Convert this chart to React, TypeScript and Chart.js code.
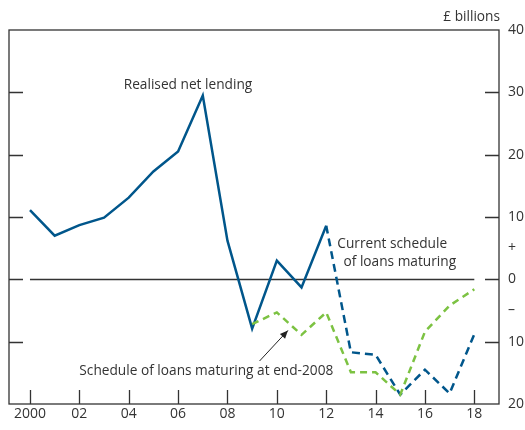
import React, { useEffect, useRef } from "react";
import { Chart, registerables } from "chart.js";

Chart.register(...registerables);

const years = [2000, 2001, 2002, 2003, 2004, 2005, 2006, 2007, 2008, 2009, 2010, 2011, 2012, 2013, 2014, 2015, 2016, 2017, 2018];
const realised = [11.1, 7.0, 8.7, 9.9, 13.1, 17.3, 20.5, 29.5, 6.2, -7.9, 3.0, -1.3, 8.6, null, null, null, null, null, null];
const currentSchedule = [null, null, null, null, null, null, null, null, null, null, null, null, 8.6, -11.7, -12.1, -18.5, -14.5, -18.3, -8.8];
const schedule2008 = [null, null, null, null, null, null, null, null, null, -7.2, -5.3, -8.9, -5.3, -14.9, -14.9, -18.5, -8.4, -4.2, -1.6];
const xTickYears = [2000, 2002, 2004, 2006, 2008, 2010, 2012, 2014, 2016, 2018];
const xTickLabels = ["2000", "02", "04", "06", "08", "10", "12", "14", "16", "18"];
const yTickValues = [40, 35, 30, 25, 20, 15, 10, 5, 0, -5, -10, -15, -20];
const yTickLabels = ["40", "", "30", "", "20", "", "10", "+", "0", "\u2013", "10", "", "20"];
const boxTickValues = [30, 20, 10, 0, -10];

const BLUE = "#00568b";
const GREEN = "#7cc242";
const INK = "#333333";
const FONT = "'Open Sans', 'Noto Sans', sans-serif";

const toPoints = (vals: (number | null)[]) =>
  years.map((y, i) => ({ x: y, y: vals[i] })).filter((p) => p.y !== null);

const framePlugin = {
  id: "frame",
  beforeDatasetsDraw(chart: any) {
    const { ctx, chartArea, scales } = chart;
    const { left, right, top, bottom } = chartArea;
    const xs = scales.x;
    const ys = scales.y;
    ctx.save();
    ctx.strokeStyle = INK;
    ctx.lineWidth = 1.3;
    ctx.strokeRect(left, top, right - left, bottom - top);
    const tl = 14;
    ctx.beginPath();
    boxTickValues.forEach((v) => {
      const py = Math.round(ys.getPixelForValue(v)) + 0.5;
      ctx.moveTo(left, py);
      ctx.lineTo(left + tl, py);
      ctx.moveTo(right, py);
      ctx.lineTo(right - tl, py);
    });
    xTickYears.forEach((yr) => {
      const px = Math.round(xs.getPixelForValue(yr)) + 0.5;
      ctx.moveTo(px, bottom);
      ctx.lineTo(px, bottom - tl);
    });
    ctx.stroke();
    const y0 = Math.round(ys.getPixelForValue(0)) + 0.5;
    ctx.beginPath();
    ctx.moveTo(xs.getPixelForValue(2000), y0);
    ctx.lineTo(xs.getPixelForValue(2018), y0);
    ctx.stroke();
    ctx.restore();
  },
  afterDatasetsDraw(chart: any) {
    const { ctx, scales, chartArea } = chart;
    const xs = scales.x;
    const ys = scales.y;
    ctx.save();
    ctx.fillStyle = INK;
    ctx.font = `13.7px ${FONT}`;
    ctx.textBaseline = "middle";
    ctx.textAlign = "center";
    ctx.fillText("Realised net lending", xs.getPixelForValue(2006.4), ys.getPixelForValue(31.2));
    ctx.textAlign = "left";
    ctx.fillText("Current schedule", xs.getPixelForValue(2012.45), ys.getPixelForValue(5.6));
    ctx.fillText("of loans maturing", xs.getPixelForValue(2012.7), ys.getPixelForValue(2.8));
    ctx.fillText("Schedule of loans maturing at end-2008", xs.getPixelForValue(2002.0), ys.getPixelForValue(-14.8));
    ctx.textAlign = "right";
    ctx.fillText("\u00a3 billions", chartArea.right + 1, ys.getPixelForValue(42));
    const x1 = xs.getPixelForValue(2009.3), y1 = ys.getPixelForValue(-13.1);
    const x2 = xs.getPixelForValue(2010.45), y2 = ys.getPixelForValue(-8.2);
    ctx.strokeStyle = "#222";
    ctx.lineWidth = 1;
    ctx.beginPath();
    ctx.moveTo(x1, y1);
    ctx.lineTo(x2, y2);
    ctx.stroke();
    const ang = Math.atan2(y2 - y1, x2 - x1);
    const hl = 8, hw = 3.5;
    ctx.fillStyle = "#222";
    ctx.beginPath();
    ctx.moveTo(x2, y2);
    ctx.lineTo(x2 - hl * Math.cos(ang) + hw * Math.sin(ang), y2 - hl * Math.sin(ang) - hw * Math.cos(ang));
    ctx.lineTo(x2 - hl * Math.cos(ang) - hw * Math.sin(ang), y2 - hl * Math.sin(ang) + hw * Math.cos(ang));
    ctx.closePath();
    ctx.fill();
    ctx.restore();
  },
};

export default function App() {
  const ref = useRef<HTMLCanvasElement>(null);
  useEffect(() => {
    document.body.style.margin = "0";
    const chart = new Chart(ref.current!, {
      type: "line",
      data: {
        datasets: [
          {
            data: toPoints(schedule2008),
            borderColor: GREEN,
            borderWidth: 2.5,
            borderDash: [7, 5],
            pointRadius: 0,
            tension: 0,
          },
          {
            data: toPoints(currentSchedule),
            borderColor: BLUE,
            borderWidth: 2.5,
            borderDash: [8, 5],
            pointRadius: 0,
            tension: 0,
          },
          {
            data: toPoints(realised),
            borderColor: BLUE,
            borderWidth: 2.5,
            pointRadius: 0,
            tension: 0,
          },
        ] as any,
      },
      options: {
        animation: false,
        responsive: false,
        maintainAspectRatio: false,
        layout: { padding: { top: 30, left: 9, right: 0, bottom: 0 } },
        plugins: { legend: { display: false }, tooltip: { enabled: false } },
        scales: {
          x: {
            type: "linear",
            min: 1999.15,
            max: 2019.0,
            grid: { display: false, drawTicks: false },
            border: { display: false },
            afterBuildTicks: (s: any) => {
              s.ticks = xTickYears.map((v) => ({ value: v }));
            },
            afterFit: (s: any) => {
              s.height = 26;
            },
            ticks: {
              autoSkip: false,
              maxRotation: 0,
              padding: 2,
              color: INK,
              font: { family: FONT, size: 14 },
              callback: (v: any) => {
                const i = xTickYears.indexOf(Number(v));
                return i >= 0 ? xTickLabels[i] : "";
              },
            },
          },
          y: {
            type: "linear",
            position: "right",
            min: -20,
            max: 40,
            grid: { display: false, drawTicks: false },
            border: { display: false },
            afterBuildTicks: (s: any) => {
              s.ticks = yTickValues.map((v) => ({ value: v }));
            },
            afterFit: (s: any) => {
              s.width = 26;
            },
            ticks: {
              autoSkip: false,
              padding: 9,
              color: INK,
              font: { family: FONT, size: 14 },
              callback: (v: any) => {
                const i = yTickValues.indexOf(Number(v));
                return i >= 0 ? yTickLabels[i] : "";
              },
            },
          },
        },
      },
      plugins: [framePlugin],
    });
    return () => chart.destroy();
  }, []);
  return (
    <div style={{ position: "absolute", left: 0, top: 0, width: 525, height: 430, background: "#fff" }}>
      <canvas ref={ref} width={525} height={430} />
    </div>
  );
}
